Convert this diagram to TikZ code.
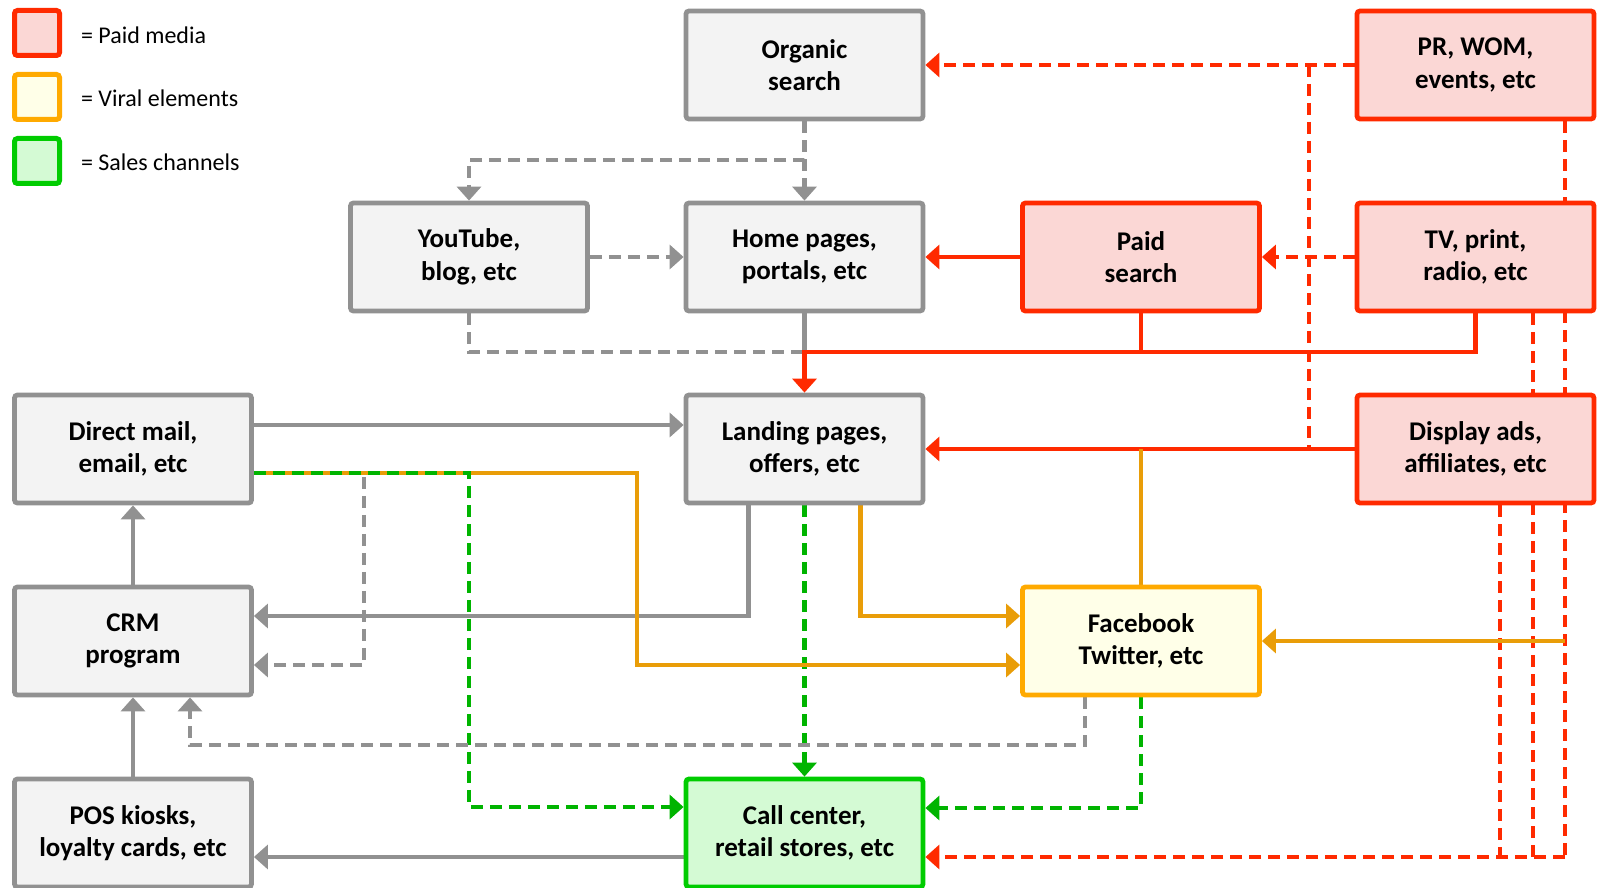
\documentclass[tikz,border=0pt]{standalone}
\usepackage{fontspec}
\setmainfont{Carlito}
\usetikzlibrary{arrows.meta,backgrounds}
\definecolor{boxgray}{RGB}{145,145,145}
\definecolor{boxfill}{RGB}{243,243,243}
\definecolor{paidred}{RGB}{255,42,0}
\definecolor{paidfill}{RGB}{251,215,213}
\definecolor{viralorange}{RGB}{255,170,0}
\definecolor{viralfill}{RGB}{255,255,232}
\definecolor{salesgreen}{RGB}{0,204,0}
\definecolor{salesfill}{RGB}{212,250,212}
\definecolor{lineorange}{RGB}{233,157,8}
\definecolor{linegreen}{RGB}{0,180,0}

\begin{document}
\begin{tikzpicture}[x=0.5pt, y=-0.5pt,
	>={Triangle[width=12pt,length=7pt]},
	box/.style={draw, line width=2.4pt, rounded corners=1.5pt, minimum width=118.5pt, minimum height=54pt, align=center, font=\fontsize{13.5}{16.3}\selectfont\bfseries},
	greybox/.style={box, draw=boxgray, fill=boxfill},
	paidbox/.style={box, draw=paidred, fill=paidfill},
	viralbox/.style={box, draw=viralorange, fill=viralfill},
	salesbox/.style={box, draw=salesgreen, fill=salesfill},
	keybox/.style={draw, line width=2.5pt, rounded corners=1.5pt, minimum size=22.5pt, inner sep=0pt},
	keytext/.style={anchor=west, font=\fontsize{12}{14}\selectfont},
	conn/.style={line width=2.2pt},
	grayline/.style={conn, draw=boxgray},
	graydash/.style={grayline, dash pattern=on 6pt off 3.5pt},
	redline/.style={conn, draw=paidred},
	reddash/.style={redline, dash pattern=on 6pt off 3.5pt},
	orangeline/.style={conn, draw=lineorange},
	greendash/.style={conn, draw=linegreen, dash pattern=on 6pt off 3.5pt}]
	\useasboundingbox (0,0) rectangle (1597,888);

	% key
	\node[keybox, draw=paidred, fill=paidfill] (keypaid) at (37,33) {};
	\node[keybox, draw=viralorange, fill=viralfill] (keyviral) at (37,97) {};
	\node[keybox, draw=salesgreen, fill=salesfill] (keysales) at (37,161) {};
	\node[keytext] (keypaidtxt) at (74,35) {= Paid media};
	\node[keytext] (keyviraltxt) at (74,98) {= Viral elements};
	\node[keytext] (keysalestxt) at (74,162) {= Sales channels};

	% boxes
	\node[greybox] (organic) at (804.5,65) {Organic\\search};
	\node[paidbox] (prwom) at (1475.5,65) {PR, WOM,\\events, etc};
	\node[greybox] (youtube) at (469,257) {YouTube,\\blog, etc};
	\node[greybox] (home) at (804.5,257) {Home pages,\\portals, etc};
	\node[paidbox] (paid) at (1141,257) {Paid\\search};
	\node[paidbox] (tv) at (1475.5,257) {TV, print,\\radio, etc};
	\node[greybox] (direct) at (133,449) {Direct mail,\\email, etc};
	\node[greybox] (landing) at (804.5,449) {Landing pages,\\offers, etc};
	\node[paidbox] (display) at (1475.5,449) {Display ads,\\affiliates, etc};
	\node[greybox] (crm) at (133,641) {CRM\\program};
	\node[viralbox] (social) at (1141,641) {Facebook\\Twitter, etc};
	\node[greybox] (pos) at (133,833) {POS kiosks,\\loyalty cards, etc};
	\node[salesbox] (call) at (804.5,833) {Call center,\\retail stores, etc};

	\coordinate (ob) at (804.5,160);
	\coordinate (hb) at (804.5,352);
	\coordinate (pv) at (1309,65);
	\coordinate (pv2) at (1309,449);
	\coordinate (r1) at (1500,857);
	\coordinate (r2) at (1533,857);
	\coordinate (r3) at (1565,857);
	\coordinate (o1) at (1565,641);
	\coordinate (ov) at (637,665);
	\coordinate (gv) at (364,665);
	\coordinate (gr) at (469,807);
	\coordinate (cb) at (190,745);

	\begin{scope}[on background layer]
		\draw[graydash,->] (organic) -- (home);
		\draw[graydash,->] (organic.south) -- (ob) -| (youtube.north);
		\draw[graydash,->] (youtube) -- (home);
		\draw[graydash] (youtube.south) |- (hb);
		\draw[grayline] (home.south) -- (hb);
		\draw[redline,->] (tv.south) |- (hb) -- (landing.north);
		\draw[redline] (paid.south) -- (paid.south |- hb);
		\draw[redline,->] (paid) -- (home);
		\draw[reddash,->] (tv) -- (paid);
		\draw[reddash,->] (prwom) -- (organic);
		\draw[reddash] (pv) -- (pv2) -- (display.west |- pv2);
		\draw[redline,->] (display) -- (landing);
		\draw[reddash] (prwom.south -| r3) -- (r3);
		\draw[reddash] (tv.south -| r2) -- (r2);
		\draw[reddash] (display.south -| r1) -- (r1);
		\draw[reddash,->] (r3) -- (call.east |- r3);
		\draw[orangeline,->] (o1) -- (social.east |- o1);
		\draw[orangeline] (social.north) -- (social.north |- landing);
		\draw[orangeline,->] ([xshift=28pt]landing.south) |- ([yshift=12.5pt]social.west);
		\draw[grayline,->] ([xshift=-28pt]landing.south) |- ([yshift=12.5pt]crm.east);
		\draw[greendash,->] (landing) -- (call);
		\draw[grayline,->] ([yshift=12pt]direct.east) -- ([yshift=12pt]landing.west);
		\draw[orangeline,->] ([yshift=-12pt]direct.east) -| (ov) -- (social.west |- ov);
		\draw[graydash,->] ([yshift=-12pt]direct.east) -| (gv) -- (crm.east |- gv);
		\draw[greendash,->] ([yshift=-12pt]direct.east) -| (gr) -- (call.west |- gr);
		\draw[grayline,->] (crm) -- (direct);
		\draw[grayline,->] (pos) -- (crm);
		\draw[graydash,->] ([xshift=-28pt]social.south) |- (cb) -- (cb |- crm.south);
		\draw[greendash,->] (social.south) |- ([yshift=12.5pt]call.east);
		\draw[grayline,->] ([yshift=-12pt]call.west) -- ([yshift=-12pt]pos.east);
	\end{scope}
\end{tikzpicture}
\end{document}
